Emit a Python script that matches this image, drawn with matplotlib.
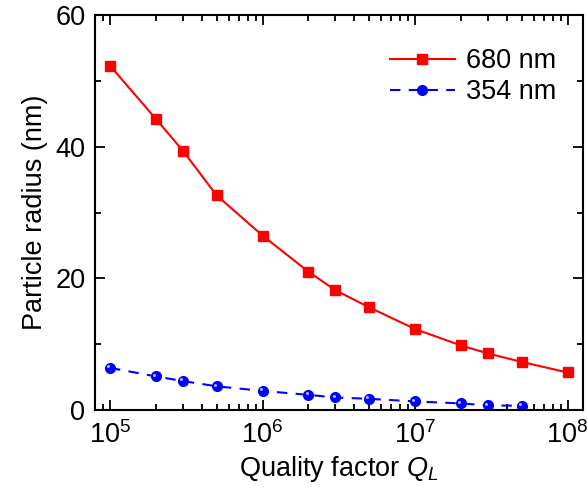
import numpy as np
import matplotlib
matplotlib.use("Agg")
import matplotlib.pyplot as plt
from matplotlib.ticker import LogLocator, MultipleLocator, NullFormatter
from matplotlib.transforms import offset_copy

plt.rcParams['font.family'] = ['Liberation Sans', 'DejaVu Sans']
plt.rcParams['mathtext.fontset'] = 'custom'
plt.rcParams['mathtext.rm'] = 'Liberation Sans'
plt.rcParams['mathtext.it'] = 'Liberation Sans:italic'

# data
q_red = [1e5, 2e5, 3e5, 5e5, 1e6, 2e6, 3e6, 5e6, 1e7, 2e7, 3e7, 5e7, 1e8]
r_680 = [52.3, 44.2, 39.4, 32.6, 26.5, 21.0, 18.2, 15.6, 12.3, 9.8, 8.6, 7.3, 5.7]
q_blue = [1e5, 2e5, 3e5, 5e5, 1e6, 2e6, 3e6, 5e6, 1e7, 2e7, 3e7, 5e7]
r_354 = [6.4, 5.1, 4.4, 3.6, 2.9, 2.3, 1.9, 1.7, 1.3, 1.0, 0.7, 0.65]

FS = 19.5

fig = plt.figure(figsize=(5.87, 5.0), dpi=100)
ax = fig.add_axes([0.162, 0.18, 0.831, 0.79])

ax.plot(q_red, r_680, color='#ff0000', lw=1.5, marker='s', ms=6.5,
        label='680 nm')
ax.plot(q_blue, r_354, color='#0000ff', lw=1.5, ls=(0, (5, 4)), marker='o',
        ms=7, label='354 nm')
# little highlight on the blue balls
hl = offset_copy(ax.transData, fig=fig, x=-1.2, y=1.2, units='points')
ax.plot(q_blue, r_354, ls='none', marker='o', ms=2.2, color='#aab4ff',
        mec='none', transform=hl)

ax.set_xscale('log')
ax.set_xlim(7.98e4, 1.26e8)
ax.set_ylim(0, 60)
ax.yaxis.set_major_locator(MultipleLocator(20))
ax.yaxis.set_minor_locator(MultipleLocator(10))
ax.xaxis.set_major_locator(LogLocator(base=10, numticks=10))
ax.xaxis.set_minor_locator(LogLocator(base=10, subs=np.arange(2, 10), numticks=20))
ax.xaxis.set_minor_formatter(NullFormatter())

ax.tick_params(which='both', direction='in', top=True, right=True,
               labelsize=FS, width=1.3)
ax.tick_params(which='major', length=7)
ax.tick_params(which='minor', length=4)
ax.tick_params(axis='y', pad=7)
ax.tick_params(axis='x', pad=8)
for s in ax.spines.values():
    s.set_linewidth(1.5)

ax.set_xlabel('Quality factor $\\mathit{Q}_{\\mathit{L}}$', fontsize=FS, labelpad=4)
ax.set_ylabel('Particle radius (nm)', fontsize=FS, labelpad=5)

ax.legend(loc='upper right', bbox_to_anchor=(1.0, 0.985), frameon=False,
          fontsize=FS, handlelength=2.4, handletextpad=0.4,
          borderaxespad=0.6, labelspacing=0.2)

fig.savefig('out.png', dpi=100)
